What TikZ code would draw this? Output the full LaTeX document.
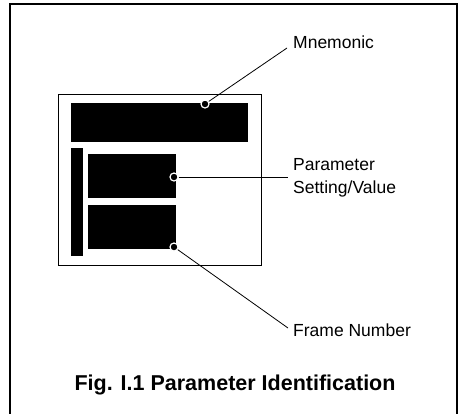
\documentclass[tikz,border=0pt]{standalone}
\usepackage{fontspec}
\setmainfont{Liberation Sans}
\usepackage{tikz}
\usetikzlibrary{positioning}
\tikzset{
  frame/.style ={draw=black, line width=1.3pt},
  screen/.style={draw=black, line width=1pt},
  blk/.style   ={fill=black},
  dot/.style   ={circle, fill=black, draw=white, line width=1.2pt,
                 minimum size=8pt, inner sep=0pt},
  lead/.style  ={draw=black, line width=0.8pt},
  lbl/.style   ={font=\fontsize{17.5}{23}\selectfont, inner sep=0pt, align=left},
  ttl/.style   ={font=\fontsize{21.5}{26}\selectfont\bfseries, inner sep=0pt}
}
\begin{document}
\begin{tikzpicture}[x=1pt, y=-1pt]
\useasboundingbox (0,0) rectangle (462,413);
% outer frame, open at the bottom
\coordinate (fbl) at (10,420);
\coordinate (fbr) at (457,420);
\draw[frame] (fbl) -- (10,4) -- (457,4) -- (fbr);

% display
\draw[screen] (58,94) rectangle (261,265);
\fill[blk] (71,103) rectangle (248,142);
\fill[blk] (71,148) rectangle (83,256);
\fill[blk] (88,154) rectangle (176,198);
\fill[blk] (88,205) rectangle (176,249);

% labels
\node[lbl, anchor=base west] (mn) at (293,48) {Mnemonic};
\node[lbl, anchor=west] (ps) at (293,178) {Parameter\\Setting/Value};
\node[lbl, anchor=base west] (fn) at (293,336) {Frame Number};
\node[ttl, anchor=base] (title) at (235,390) {Fig. I.1 Parameter Identification};

% leaders
\coordinate (mnend) at (287,48);
\coordinate (psend) at (288,177);
\coordinate (fnend) at (288,328);
\node[dot] (d1) at (205,104) {};
\node[dot] (d2) at (174,177) {};
\node[dot] (d3) at (174,247) {};
\draw[lead] (d1) -- (mnend);
\draw[lead] (d2) -- (psend);
\draw[lead] (d3) -- (fnend);
\end{tikzpicture}
\end{document}
